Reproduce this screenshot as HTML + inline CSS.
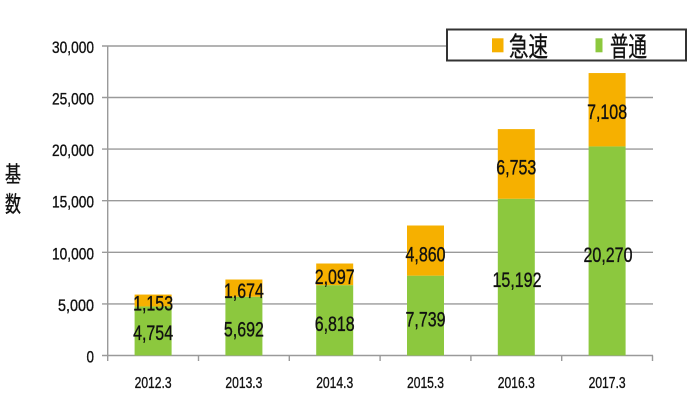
<!DOCTYPE html>
<html><head><meta charset="utf-8"><style>
html,body{margin:0;padding:0;background:#fff;}
svg{display:block;}
text{font-family:"Liberation Sans","Noto Sans CJK JP",sans-serif;fill:#111;stroke:#111;stroke-width:0.35px;}
</style></head><body>
<svg width="700" height="419" viewBox="0 0 700 419" xmlns="http://www.w3.org/2000/svg">
<rect width="700" height="419" fill="#fff"/>
<!-- gridlines -->
<g stroke="#9a9a9a" stroke-width="1.4">
<line x1="102" y1="46" x2="653" y2="46"/>
<line x1="102" y1="97.5" x2="653" y2="97.5"/>
<line x1="102" y1="149.1" x2="653" y2="149.1"/>
<line x1="102" y1="200.7" x2="653" y2="200.7"/>
<line x1="102" y1="252.3" x2="653" y2="252.3"/>
<line x1="102" y1="303.9" x2="653" y2="303.9"/>
<line x1="102" y1="355.5" x2="653" y2="355.5"/>
<line x1="107.7" y1="46" x2="107.7" y2="361"/>
<line x1="198.5" y1="355.5" x2="198.5" y2="361"/>
<line x1="289.3" y1="355.5" x2="289.3" y2="361"/>
<line x1="380.1" y1="355.5" x2="380.1" y2="361"/>
<line x1="470.9" y1="355.5" x2="470.9" y2="361"/>
<line x1="561.7" y1="355.5" x2="561.7" y2="361"/>
<line x1="652.5" y1="355.5" x2="652.5" y2="361"/>
</g>
<!-- bars -->
<g>
<rect x="134.6" y="306.45" width="37" height="49.05" fill="#8CC83E"/>
<rect x="134.6" y="294.56" width="37" height="11.89" fill="#F6B000"/>
<rect x="225.4" y="296.77" width="37" height="58.73" fill="#8CC83E"/>
<rect x="225.4" y="279.5" width="37" height="17.27" fill="#F6B000"/>
<rect x="316.2" y="285.16" width="37" height="70.34" fill="#8CC83E"/>
<rect x="316.2" y="263.5" width="37" height="21.66" fill="#F6B000"/>
<rect x="407" y="275.66" width="37" height="79.84" fill="#8CC83E"/>
<rect x="407" y="225.5" width="37" height="50.16" fill="#F6B000"/>
<rect x="497.8" y="198.76" width="37" height="156.74" fill="#8CC83E"/>
<rect x="497.8" y="129.1" width="37" height="69.66" fill="#F6B000"/>
<rect x="588.6" y="146.4" width="37" height="209.1" fill="#8CC83E"/>
<rect x="588.6" y="73.05" width="37" height="73.35" fill="#F6B000"/>
</g>
<!-- y tick labels -->
<g font-size="16.5" text-anchor="end">
<text x="94" y="53" textLength="42" lengthAdjust="spacingAndGlyphs">30,000</text>
<text x="94" y="104.5" textLength="42" lengthAdjust="spacingAndGlyphs">25,000</text>
<text x="94" y="156.1" textLength="42" lengthAdjust="spacingAndGlyphs">20,000</text>
<text x="94" y="207.7" textLength="42" lengthAdjust="spacingAndGlyphs">15,000</text>
<text x="94" y="259.3" textLength="42" lengthAdjust="spacingAndGlyphs">10,000</text>
<text x="94" y="310.9" textLength="36" lengthAdjust="spacingAndGlyphs">5,000</text>
<text x="94" y="362.5" textLength="7.5" lengthAdjust="spacingAndGlyphs">0</text>
</g>
<!-- x labels -->
<g font-size="16" text-anchor="middle">
<text x="153.1" y="388" textLength="37" lengthAdjust="spacingAndGlyphs">2012.3</text>
<text x="243.9" y="388" textLength="37" lengthAdjust="spacingAndGlyphs">2013.3</text>
<text x="334.7" y="388" textLength="37" lengthAdjust="spacingAndGlyphs">2014.3</text>
<text x="425.5" y="388" textLength="37" lengthAdjust="spacingAndGlyphs">2015.3</text>
<text x="516.3" y="388" textLength="37" lengthAdjust="spacingAndGlyphs">2016.3</text>
<text x="607.1" y="388" textLength="37" lengthAdjust="spacingAndGlyphs">2017.3</text>
</g>
<!-- bar value labels -->
<g font-size="21" text-anchor="middle">
<text x="153.1" y="310.7" textLength="40" lengthAdjust="spacingAndGlyphs">1,153</text>
<text x="153.1" y="340" textLength="40" lengthAdjust="spacingAndGlyphs">4,754</text>
<text x="243.9" y="298" textLength="40" lengthAdjust="spacingAndGlyphs">1,674</text>
<text x="243.9" y="336.7" textLength="40" lengthAdjust="spacingAndGlyphs">5,692</text>
<text x="334.7" y="284" textLength="40" lengthAdjust="spacingAndGlyphs">2,097</text>
<text x="334.7" y="331" textLength="40" lengthAdjust="spacingAndGlyphs">6,818</text>
<text x="425.5" y="261.7" textLength="40" lengthAdjust="spacingAndGlyphs">4,860</text>
<text x="425.5" y="326.7" textLength="40" lengthAdjust="spacingAndGlyphs">7,739</text>
<text x="516.3" y="174.3" textLength="40" lengthAdjust="spacingAndGlyphs">6,753</text>
<text x="517" y="287" textLength="49" lengthAdjust="spacingAndGlyphs">15,192</text>
<text x="607.1" y="119" textLength="40" lengthAdjust="spacingAndGlyphs">7,108</text>
<text x="608" y="262" textLength="49" lengthAdjust="spacingAndGlyphs">20,270</text>
</g>
<!-- y axis title -->
<g font-size="22" style="stroke-width:0.6px">
<text x="5" y="181.8" textLength="16" lengthAdjust="spacingAndGlyphs">基</text>
<text x="5" y="211.8" textLength="16" lengthAdjust="spacingAndGlyphs">数</text>
</g>
<!-- legend -->
<rect x="447" y="29.5" width="239" height="31" fill="#fff" stroke="#333" stroke-width="2"/>
<rect x="492" y="38.3" width="11.5" height="14" fill="#F6B000"/>
<rect x="595.5" y="38.3" width="7" height="14" fill="#8CC83E"/>
<g font-size="27" style="stroke-width:0.6px">
<text x="509" y="56.4" textLength="39" lengthAdjust="spacingAndGlyphs">急速</text>
<text x="610" y="56.4" textLength="37" lengthAdjust="spacingAndGlyphs">普通</text>
</g>
</svg>
</body></html>
